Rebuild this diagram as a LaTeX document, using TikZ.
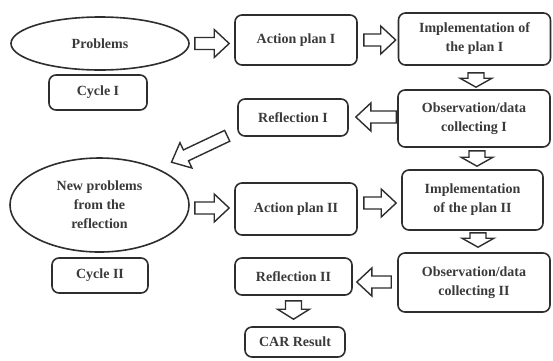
\documentclass[tikz,border=0pt]{standalone}
\usepackage{fontspec}
\setmainfont{Liberation Serif}
\usetikzlibrary{calc,shapes.geometric}
\definecolor{linec}{HTML}{2E2E2E}
\definecolor{textc}{HTML}{3A3A3A}
\newcommand\lbl{\fontsize{14}{19}\selectfont\bfseries}
\tikzset{
  box/.style={draw=linec, line width=1.6pt, rounded corners=7pt, inner sep=0pt,
    align=center, font=\lbl, text=textc},
  ell/.style={ellipse, draw=linec, line width=1.6pt, inner sep=0pt,
    align=center, font=\lbl, text=textc},
  barr/.style={draw=linec, line width=1.4pt, fill=white, line join=miter},
}
% tail, tip, shaft half width, head half width, head length
\newcommand\blockarrow[5]{%
  \draw[barr] ($(#1)!#3!90:(#2)$) -- ($(#2)!#5!(#1)!#3!-90:(#1)$)
    -- ($(#2)!#5!(#1)!#4!-90:(#1)$) -- (#2)
    -- ($(#2)!#5!(#1)!#4!90:(#1)$) -- ($(#2)!#5!(#1)!#3!90:(#1)$)
    -- ($(#1)!#3!-90:(#2)$) -- cycle;}
\begin{document}
\begin{tikzpicture}[x=1pt,y=-1pt]
\useasboundingbox (0,0) rectangle (553,360);
% nodes
\node[ell, minimum width=178pt, minimum height=53pt] (prob) at (100,43.5) {Problems};
\node[box, minimum width=98pt, minimum height=35pt] (cyc1) at (98,92.5) {Cycle I};
\node[box, minimum width=122pt, minimum height=50pt] (ap1) at (296,40) {Action plan I};
\node[box, minimum width=152pt, minimum height=52pt] (impl1) at (474.5,39) {Implementation of\\the plan I};
\node[box, minimum width=152pt, minimum height=57pt] (obs1) at (474,118.5) {Observation/data\\collecting I};
\node[box, minimum width=110pt, minimum height=37pt] (refl1) at (293,117.5) {Reflection I};
\node[ell, minimum width=179pt, minimum height=94pt] (np) at (99.5,205) {New problems\\from the\\reflection};
\node[box, minimum width=96pt, minimum height=35pt] (cyc2) at (100,275.5) {Cycle II};
\node[box, minimum width=122pt, minimum height=52pt] (ap2) at (296,209) {Action plan II};
\node[box, minimum width=141pt, minimum height=60pt] (impl2) at (472.5,200) {Implementation\\of the plan II};
\node[box, minimum width=152pt, minimum height=59pt] (obs2) at (474,282.5) {Observation/data\\collecting II};
\node[box, minimum width=117pt, minimum height=37pt] (refl2) at (293.5,276.5) {Reflection II};
\node[box, minimum width=100pt, minimum height=30pt] (car) at (295,342) {CAR Result};
% arrow end points
\coordinate (a1t) at ($(prob.east)+(5,0)$);
\coordinate (a1h) at ($(ap1.west |- prob.east)+(-5,0)$);
\coordinate (a2t) at ($(ap1.east)+(6,0)$);
\coordinate (a2h) at ($(impl1.west |- ap1.east)+(-2,0)$);
\coordinate (a3t) at ($(obs1.west)+(-1,-1.5)$);
\coordinate (a3h) at ($(refl1.east |- a3t)+(7,0)$);
\coordinate (a4t) at ($(np.east)+(5,3)$);
\coordinate (a4h) at ($(ap2.west |- a4t)+(-5,0)$);
\coordinate (a5t) at ($(ap2.east)+(6,-6)$);
\coordinate (a5h) at ($(impl2.west |- a5t)+(-5,0)$);
\coordinate (a6t) at ($(obs2.west)+(-6,-0.5)$);
\coordinate (a6h) at ($(refl2.east |- a6t)+(4,0)$);
\coordinate (v1t) at ($(impl1.south)+(1.5,7)$);
\coordinate (v1h) at ($(obs1.north -| v1t)+(0,-2)$);
\coordinate (v2t) at ($(obs1.south)+(3,3)$);
\coordinate (v2h) at ($(impl2.north -| v2t)+(0,-3)$);
\coordinate (v3t) at ($(impl2.south)+(5.5,2)$);
\coordinate (v3h) at ($(obs2.north -| v3t)+(0,-5)$);
\coordinate (v4t) at ($(refl2.south)+(0,5)$);
\coordinate (v4h) at ($(car.north -| v4t)+(0,-7)$);
\coordinate (dt) at ($(refl1.south west)+(-10,-1)$);
\coordinate (dh) at ($(np.north)+(72,5)$);
% block arrows
\blockarrow{a1t}{a1h}{6pt}{14pt}{15pt}
\blockarrow{a2t}{a2h}{6pt}{14pt}{15pt}
\blockarrow{a3t}{a3h}{6pt}{14pt}{15pt}
\blockarrow{a4t}{a4h}{6pt}{14pt}{15pt}
\blockarrow{a5t}{a5h}{6pt}{14pt}{15pt}
\blockarrow{a6t}{a6h}{6pt}{14pt}{15pt}
\blockarrow{v1t}{v1h}{8pt}{16pt}{9pt}
\blockarrow{v2t}{v2h}{8pt}{16pt}{9pt}
\blockarrow{v3t}{v3h}{8pt}{16pt}{9pt}
\blockarrow{v4t}{v4h}{8pt}{16pt}{10pt}
\blockarrow{dt}{dh}{6pt}{14pt}{16pt}
\end{tikzpicture}
\end{document}
